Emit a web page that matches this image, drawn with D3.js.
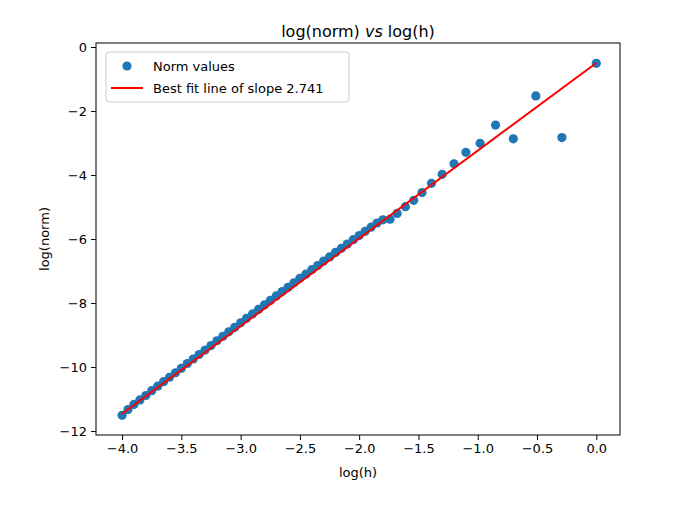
<!DOCTYPE html>
<html>
<head>
<meta charset="utf-8">
<script src="https://cdn.jsdelivr.net/npm/d3@7"></script>
<style>
  body { margin: 0; background: #fff; }
  text { font-family: "DejaVu Sans", sans-serif; }
</style>
</head>
<body>
<div id="vis"></div>
<script>
const WIDTH = 682, HEIGHT = 505;
const MARGINS = {left: 96, right: 62, top: 43, bottom: 70};

// log(h) and log(norm)
const logH = [
  -4.00, -3.95, -3.90, -3.85, -3.80, -3.75, -3.70, -3.65, -3.60, -3.55,
  -3.50, -3.45, -3.40, -3.35, -3.30, -3.25, -3.20, -3.15, -3.10, -3.05,
  -3.00, -2.95, -2.90, -2.85, -2.80, -2.75, -2.70, -2.65, -2.60, -2.55,
  -2.50, -2.45, -2.40, -2.35, -2.30, -2.25, -2.20, -2.15, -2.10, -2.05,
  -2.00, -1.95, -1.90, -1.85, -1.80, -1.74, -1.68, -1.61, -1.54, -1.47,
  -1.39, -1.30, -1.20, -1.10, -0.98, -0.85, -0.70, -0.51, -0.29, 0.00
];
const logNorm = [
  -11.51, -11.33, -11.17, -11.03, -10.89, -10.74, -10.60, -10.46, -10.32, -10.18,
  -10.04, -9.89, -9.75, -9.61, -9.47, -9.33, -9.18, -9.04, -8.90, -8.76,
  -8.62, -8.48, -8.34, -8.20, -8.06, -7.92, -7.78, -7.64, -7.51, -7.37,
  -7.23, -7.10, -6.96, -6.83, -6.69, -6.56, -6.42, -6.29, -6.16, -6.02,
  -5.89, -5.76, -5.63, -5.50, -5.40, -5.38, -5.20, -4.99, -4.79, -4.55,
  -4.26, -3.98, -3.65, -3.29, -3.01, -2.44, -2.87, -1.53, -2.83, -0.51
];
const fitX = [-4.0, 0.0];
const fitY = [-11.46, -0.50];
const xTicks = [-4.0, -3.5, -3.0, -2.5, -2.0, -1.5, -1.0, -0.5, 0.0];
const yTicks = [0, -2, -4, -6, -8, -10, -12];

const svg = d3.select("#vis").append("svg")
    .attr("width", WIDTH)
    .attr("height", HEIGHT);

const x = d3.scaleLinear().domain([-4.22, 0.2]).range([MARGINS.left, WIDTH - MARGINS.right]);
const y = d3.scaleLinear().domain([-12.125, 0.125]).range([HEIGHT - MARGINS.bottom, MARGINS.top]);

const minus = d => (d < 0 ? "\u2212" : "") + Math.abs(d);

svg.append("g")
    .attr("transform", `translate(0,${HEIGHT - MARGINS.bottom})`)
    .call(d3.axisBottom(x).tickValues(xTicks).tickSize(5).tickPadding(4)
      .tickFormat(d => (d < 0 ? "\u2212" : "") + Math.abs(d).toFixed(1)))
    .call(g => g.select(".domain").remove())
    .selectAll("text").attr("font-size", 13).attr("fill", "#000");

svg.append("g")
    .attr("transform", `translate(${MARGINS.left},0)`)
    .call(d3.axisLeft(y).tickValues(yTicks).tickSize(5).tickPadding(4).tickFormat(minus))
    .call(g => g.select(".domain").remove())
    .selectAll("text").attr("font-size", 13).attr("fill", "#000");

// points
svg.append("g").selectAll("circle")
  .data(logH)
  .join("circle")
    .attr("cx", d => x(d))
    .attr("cy", (d, i) => y(logNorm[i]))
    .attr("r", 4.6)
    .attr("fill", "#1f77b4");

// fit line
svg.append("path")
    .datum(fitX)
    .attr("d", d3.line().x(d => x(d)).y((d, i) => y(fitY[i])))
    .attr("stroke", "red")
    .attr("stroke-width", 2)
    .attr("fill", "none");

// frame
svg.append("rect")
    .attr("x", MARGINS.left).attr("y", MARGINS.top)
    .attr("width", WIDTH - MARGINS.left - MARGINS.right)
    .attr("height", HEIGHT - MARGINS.top - MARGINS.bottom)
    .attr("fill", "none").attr("stroke", "#000").attr("stroke-width", 1);

// title and labels
const title = svg.append("text")
    .attr("x", (MARGINS.left + WIDTH - MARGINS.right) / 2).attr("y", 37)
    .attr("text-anchor", "middle").attr("font-size", 16);
title.append("tspan").text("log(norm) ");
title.append("tspan").attr("font-style", "italic").text("vs");
title.append("tspan").text(" log(h)");

svg.append("text")
    .attr("x", (MARGINS.left + WIDTH - MARGINS.right) / 2).attr("y", 477)
    .attr("text-anchor", "middle").attr("font-size", 13).text("log(h)");

svg.append("text")
    .attr("transform", `translate(49,${(MARGINS.top + HEIGHT - MARGINS.bottom) / 2}) rotate(-90)`)
    .attr("text-anchor", "middle").attr("font-size", 13).text("log(norm)");

// legend
const legend = svg.append("g");
legend.append("rect")
    .attr("x", 106).attr("y", 52).attr("width", 243).attr("height", 50).attr("rx", 3)
    .attr("fill", "#fff").attr("fill-opacity", 0.8).attr("stroke", "#ccc");
legend.append("circle").attr("cx", 127).attr("cy", 66).attr("r", 4.6).attr("fill", "#1f77b4");
legend.append("line").attr("x1", 111).attr("x2", 143).attr("y1", 88).attr("y2", 88)
    .attr("stroke", "red").attr("stroke-width", 2);
legend.append("text").attr("x", 153).attr("y", 71).attr("font-size", 13).text("Norm values");
legend.append("text").attr("x", 153).attr("y", 93).attr("font-size", 13).text("Best fit line of slope 2.741");
</script>
</body>
</html>
